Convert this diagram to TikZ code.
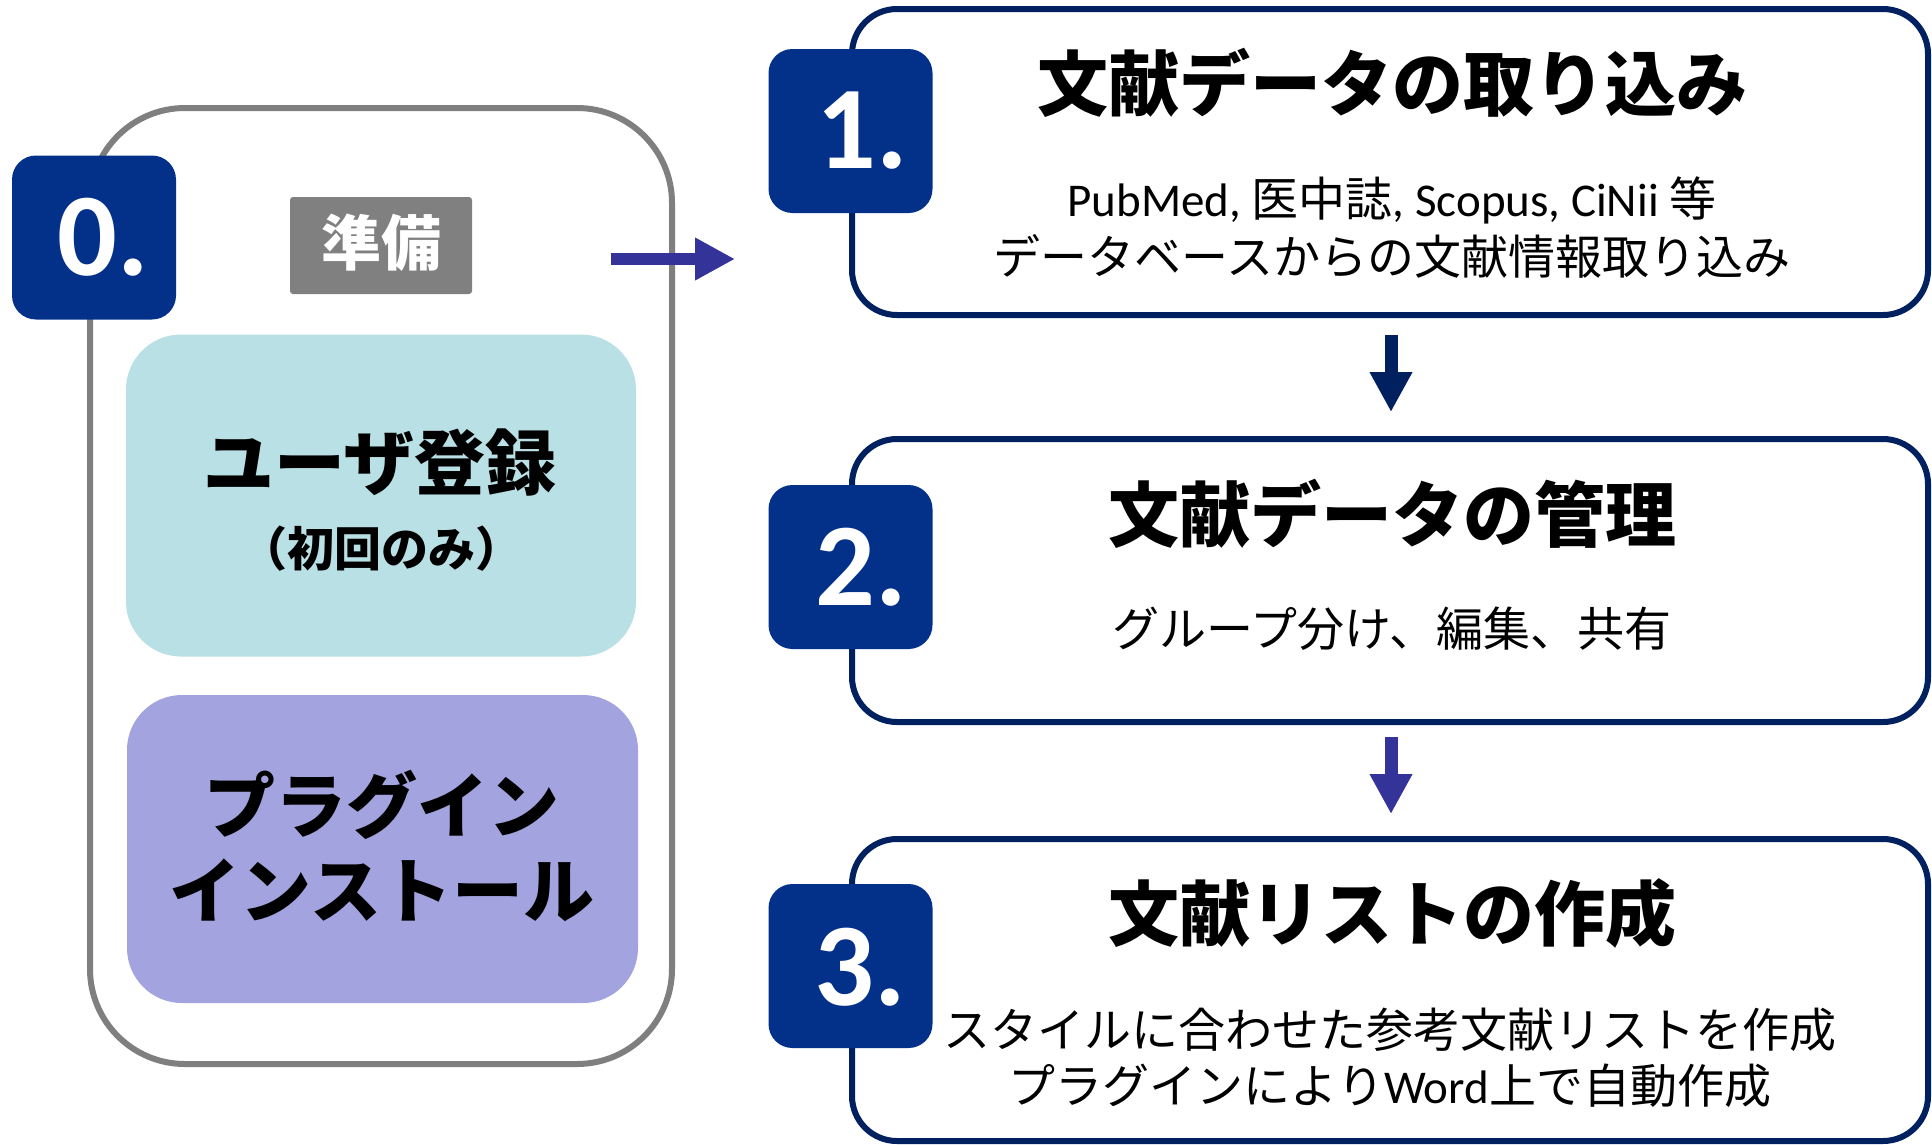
\documentclass[tikz,border=0pt]{standalone}
\usepackage{fontspec}
\setmainfont{Carlito}
\newfontfamily\jp{Noto Sans CJK JP}
\usetikzlibrary{arrows.meta}
\definecolor{navyfill}{RGB}{3,49,138}
\definecolor{navyline}{RGB}{0,32,96}
\definecolor{purplearrow}{RGB}{51,51,153}
\definecolor{grayline}{RGB}{127,127,127}
\definecolor{grayfill}{RGB}{128,128,128}
\definecolor{tealfill}{RGB}{185,224,228}
\definecolor{lavfill}{RGB}{163,163,223}
\tikzset{
  stepbox/.style={draw=navyline, line width=6pt, rounded corners=45pt, fill=white, inner sep=0pt, minimum width=1076pt},
  numbox/.style={fill=navyfill, rounded corners=24pt, inner sep=0pt, minimum width=164pt, minimum height=164pt},
  numtxt/.style={text=white, inner sep=0pt, font=\bfseries\fontsize{118}{118}\selectfont},
  titletxt/.style={inner sep=0pt, font=\jp\bfseries\fontsize{71}{80}\selectfont},
  subtxt/.style={inner sep=0pt, align=center, font=\fontsize{47}{56}\selectfont},
  jpsub/.style={inner sep=0pt, align=center, font=\jp\fontsize{47}{56}\selectfont},
  lefttxt/.style={inner sep=0pt, align=center, font=\jp\bfseries\fontsize{71}{85}\selectfont},
  arrowline/.style={line width=13pt, -{Triangle[length=40pt,width=40pt]}},
}
\begin{document}
\begin{tikzpicture}[x=1pt,y=-1pt]
\useasboundingbox (0,0) rectangle (1932,1144);
% left panel
\node[draw=grayline, line width=6pt, rounded corners=95pt, minimum width=582pt, minimum height=956pt, inner sep=0pt] (outer) at (381,586) {};
\node[fill=grayfill, rounded corners=3pt, minimum width=182pt, minimum height=97pt, inner sep=0pt] (prep) at (381,245.5) {};
\node[text=white, inner sep=0pt, font=\jp\bfseries\fontsize{60}{60}\selectfont] (preptxt) at (381,243) {準備};
\node[fill=tealfill, rounded corners=55pt, minimum width=510pt, minimum height=322pt, inner sep=0pt] (user) at (381,495.5) {};
\node[lefttxt] (usertxt) at (380,463) {ユーザ登録};
\node[inner sep=0pt, font=\jp\bfseries\fontsize{47}{47}\selectfont] (usersub) at (381,549) {（初回のみ）};
\node[fill=lavfill, rounded corners=55pt, minimum width=511pt, minimum height=308pt, inner sep=0pt] (plug) at (382.5,849) {};
\node[lefttxt] (plugtxt) at (382,845.5) {プラグイン\\インストール};
\node[numbox] (n0) at (94,237.5) {};
\node[numtxt] (n0txt) at (103,237) {0.};
% step boxes
\node[stepbox, minimum height=306pt] (b1) at (1390,162) {};
\node[stepbox, minimum height=283pt] (b2) at (1390,580.5) {};
\node[stepbox, minimum height=302pt] (b3) at (1390,990) {};
\node[numbox] (n1) at (850.5,131) {};
\node[numbox] (n2) at (850.5,567) {};
\node[numbox] (n3) at (850.5,966) {};
\node[numtxt] (n1txt) at (862,131) {1.};
\node[numtxt] (n2txt) at (861,567) {2.};
\node[numtxt] (n3txt) at (860,967) {3.};
% texts
\node[titletxt] (t1) at (1392,83) {文献データの取り込み};
\node[subtxt] (s1a) at (1392,200) {PubMed, {\jp 医中誌}, Scopus, CiNii {\jp 等}};
\node[jpsub] (s1b) at (1392,256) {データベースからの文献情報取り込み};
\node[titletxt] (t2) at (1392,514) {文献データの管理};
\node[jpsub] (s2) at (1392,629) {グループ分け、編集、共有};
\node[titletxt] (t3) at (1392,913) {文献リストの作成};
\node[jpsub] (s3a) at (1390,1030) {スタイルに合わせた参考文献リストを作成};
\node[jpsub] (s3b) at (1390,1086) {プラグインにより{\rmfamily Word}上で自動作成};
% arrows
\coordinate (r0) at (611,259);
\coordinate (r1) at (735,259);
\draw[arrowline, line width=12pt, draw=purplearrow, fill=purplearrow] (r0) -- (r1);
\draw[arrowline, draw=navyline, fill=navyline] ([xshift=1pt,yshift=-17pt]b1.south) -- ([xshift=1pt,yshift=24pt]b2.north);
\draw[arrowline, draw=purplearrow, fill=purplearrow] ([xshift=1pt,yshift=-12pt]b2.south) -- ([xshift=1pt,yshift=22pt]b3.north);
\end{tikzpicture}
\end{document}
